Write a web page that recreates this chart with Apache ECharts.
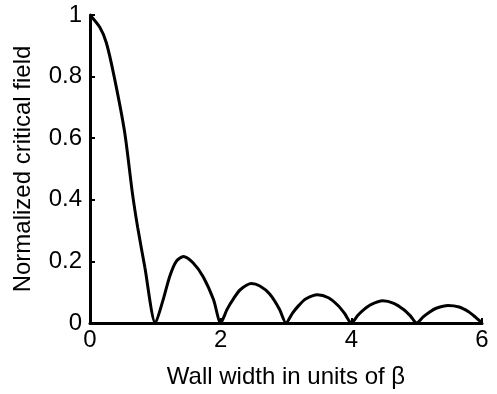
<!DOCTYPE html>
<html>
<head>
    <meta charset="utf-8">
    <style>
        html, body { margin: 0; padding: 0; background: #fff; }
        #chart { width: 497px; height: 394px; }
    </style>
    <script src="https://cdn.jsdelivr.net/npm/echarts@6/dist/echarts.min.js"></script>
</head>
<body>
    <div id="chart"></div>
    <script type="text/javascript">
        // lobe by lobe
        var wallWidth = [
            0, 0.15, 0.25, 0.37, 0.53, 0.65, 0.73, 0.84, 1,
            1.12, 1.22, 1.32, 1.43, 1.58, 1.73, 1.89, 2,
            2.1, 2.2, 2.3, 2.47, 2.6, 2.75, 2.9, 3,
            3.1, 3.2, 3.3, 3.48, 3.65, 3.8, 3.9, 4,
            4.1, 4.2, 4.3, 4.48, 4.65, 4.8, 4.9, 5,
            5.1, 5.2, 5.3, 5.48, 5.65, 5.8, 5.9, 6
        ];
        var criticalField = [
            1, 0.96, 0.91, 0.80, 0.62, 0.42, 0.31, 0.18, 0,
            0.076, 0.151, 0.20, 0.216, 0.195, 0.151, 0.076, 0,
            0.045, 0.08, 0.108, 0.128, 0.12, 0.094, 0.045, 0,
            0.032, 0.058, 0.078, 0.092, 0.082, 0.056, 0.03, 0,
            0.025, 0.045, 0.06, 0.072, 0.064, 0.044, 0.024, 0,
            0.02, 0.036, 0.048, 0.057, 0.052, 0.036, 0.019, 0
        ];
        var xTicks = [0, 2, 4, 6];
        var yTicks = [0, 0.2, 0.4, 0.6, 0.8, 1];

        var points = wallWidth.map(function (x, i) { return [x, criticalField[i]]; });
        var font = 'Liberation Sans, Arial, sans-serif';

        var myChart = echarts.init(document.getElementById('chart'));
        myChart.setOption({
            animation: false,
            grid: { left: 90, right: 15, top: 15, bottom: 71 },
            xAxis: {
                type: 'value',
                min: xTicks[0],
                max: xTicks[xTicks.length - 1],
                interval: 2,
                name: 'Wall width in units of β',
                nameLocation: 'middle',
                nameGap: 42,
                nameTextStyle: { color: '#000', fontSize: 24, fontFamily: font },
                axisLine: { lineStyle: { color: '#000', width: 3 } },
                axisTick: { inside: true, length: 5, lineStyle: { color: '#000', width: 2 } },
                axisLabel: { color: '#000', fontSize: 24, fontFamily: font, margin: 5 },
                splitLine: { show: false }
            },
            yAxis: {
                type: 'value',
                min: yTicks[0],
                max: yTicks[yTicks.length - 1],
                interval: 0.2,
                name: 'Normalized critical field',
                nameLocation: 'middle',
                nameGap: 55,
                nameTextStyle: { color: '#000', fontSize: 24, fontFamily: font },
                axisLine: { lineStyle: { color: '#000', width: 3 } },
                axisTick: { inside: true, length: 5, lineStyle: { color: '#000', width: 2 } },
                axisLabel: { color: '#000', fontSize: 24, fontFamily: font, margin: 8 },
                splitLine: { show: false }
            },
            series: [{
                type: 'line',
                data: points,
                showSymbol: false,
                smooth: 0.25,
                lineStyle: { color: '#000', width: 3 }
            }]
        });
    </script>
</body>
</html>
